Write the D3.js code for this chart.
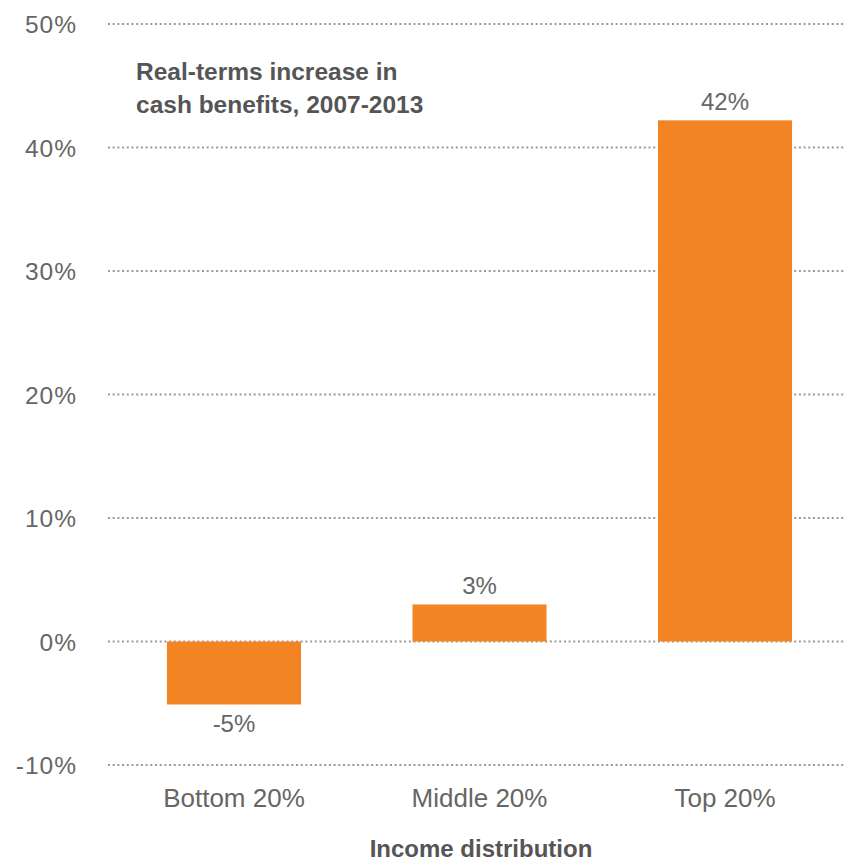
<!DOCTYPE html>
<html><head><meta charset="utf-8">
<script src="https://cdn.jsdelivr.net/npm/d3@7"></script>
<style>body{margin:0;background:#fff}svg{display:block}</style>
</head><body>
<svg id="c" width="844" height="861"></svg>
<script>
const categories = ["Bottom 20%", "Middle 20%", "Top 20%"];
const values = [-5.1, 3.0, 42.2];
const valueLabels = ["-5%", "3%", "42%"];
const yTicks = [-10, 0, 10, 20, 30, 40, 50];
const titleLines = ["Real-terms increase in", "cash benefits, 2007-2013"];
const xTitle = "Income distribution";

const svg = d3.select("#c");
const font = "'Liberation Sans', Arial, sans-serif";
const y = d3.scaleLinear().domain([-10, 50]).range([765, 24]);
const x = d3.scaleBand().domain(categories).range([109, 850]).paddingInner(0.454).paddingOuter(0.236);

// gridlines
svg.append("g").selectAll("line").data(yTicks).join("line")
  .attr("x1", 108).attr("x2", 844)
  .attr("y1", d => y(d)).attr("y2", d => y(d))
  .attr("stroke", "#9a9a9a").attr("stroke-width", 2).attr("stroke-dasharray", "2,2.7");

// y axis labels
const yAxis = d3.axisLeft(y).tickValues(yTicks).tickFormat(d => d + "%").tickSize(0).tickPadding(0);
const ga = svg.append("g").attr("transform", "translate(77,0)").call(yAxis);
ga.select(".domain").remove();
ga.selectAll("text").attr("font-family", font).attr("font-size", 24.5).attr("fill", "#666")
  .attr("letter-spacing", 1).attr("dy", "0.36em");

// bars
const data = categories.map((c, i) => ({c, v: values[i], l: valueLabels[i]}));
svg.append("g").selectAll("rect").data(data).join("rect")
  .attr("x", d => x(d.c)).attr("width", x.bandwidth())
  .attr("y", d => y(Math.max(0, d.v))).attr("height", d => Math.abs(y(d.v) - y(0)))
  .attr("fill", "#f38423");

// value labels
svg.append("g").selectAll("text").data(data).join("text")
  .attr("x", d => x(d.c) + x.bandwidth() / 2)
  .attr("y", d => d.v >= 0 ? y(d.v) - 10 : y(d.v) + 28)
  .attr("text-anchor", "middle").attr("font-family", font).attr("font-size", 24).attr("fill", "#666")
  .text(d => d.l);

// x labels
svg.append("g").selectAll("text").data(categories).join("text")
  .attr("x", d => x(d) + x.bandwidth() / 2).attr("y", 807)
  .attr("text-anchor", "middle").attr("font-family", font).attr("font-size", 26).attr("fill", "#666")
  .text(d => d);

// x title
svg.append("text").attr("x", 481).attr("y", 857).attr("text-anchor", "middle")
  .attr("font-family", font).attr("font-size", 24).attr("font-weight", "bold").attr("fill", "#555")
  .text(xTitle);

// chart title
svg.append("g").selectAll("text").data(titleLines).join("text")
  .attr("x", 136).attr("y", (d, i) => 80 + i * 33)
  .attr("font-family", font).attr("font-size", 24.5).attr("font-weight", "bold").attr("fill", "#555")
  .text(d => d);
</script>
</body></html>
